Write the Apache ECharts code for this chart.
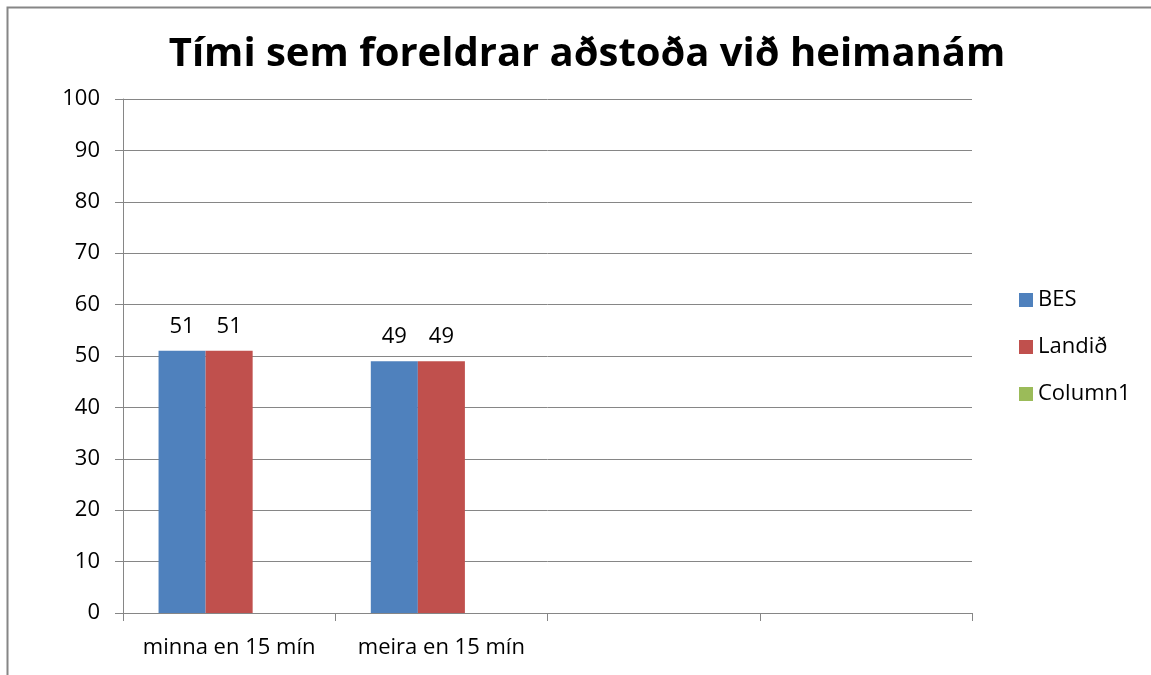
<!DOCTYPE html>
<html>
<head>
<meta charset="utf-8">
<script src="https://cdn.jsdelivr.net/npm/echarts@6/dist/echarts.min.js"></script>
<style>
  html, body { margin: 0; padding: 0; background: #fff; }
  #main { width: 1151px; height: 675px; }
</style>
</head>
<body>
<div id="main"></div>
<script>
const categories = ['minna en 15 mín', 'meira en 15 mín', '', ''];
const besValues = [51, 49, null, null];
const landidValues = [51, 49, null, null];
const column1Values = [null, null, null, null];

const myChart = echarts.init(document.getElementById('main'));
const font = 'Open Sans, Liberation Sans, sans-serif';
const labelStyle = {
    show: true,
    position: 'top',
    distance: 13,
    color: '#000',
    fontSize: 22,
    fontFamily: font
};
const option = {
    backgroundColor: '#fff',
    animation: false,
    title: {
        text: 'Tími sem foreldrar aðstoða við heimanám',
        left: 582,
        textAlign: 'center',
        top: 30,
        textStyle: { fontSize: 40, fontWeight: 'bold', color: '#000', fontFamily: font }
    },
    graphic: [
        {
            type: 'rect',
            shape: { x: 7.5, y: 7.5, width: 1160, height: 680 },
            style: { fill: 'none', stroke: '#868686', lineWidth: 2 }
        }
    ],
    legend: {
        orient: 'vertical',
        left: 1014,
        top: 284,
        itemWidth: 14,
        itemHeight: 14,
        itemGap: 25,
        icon: 'rect',
        textStyle: { fontSize: 22, color: '#000', fontFamily: font },
        data: ['BES', 'Landið', 'Column1']
    },
    grid: { left: 123, right: 179, top: 99, bottom: 62 },
    xAxis: {
        type: 'category',
        data: categories,
        axisLine: { lineStyle: { color: '#868686', width: 1 } },
        axisTick: { show: true, interval: 0, alignWithLabel: false, length: 8, lineStyle: { color: '#868686' } },
        axisLabel: { interval: 0, color: '#000', fontSize: 22, fontFamily: font, margin: 24 }
    },
    yAxis: {
        type: 'value',
        min: 0,
        max: 100,
        interval: 10,
        axisLine: { show: true, lineStyle: { color: '#868686' } },
        axisTick: { show: true, length: 8, lineStyle: { color: '#868686' } },
        axisLabel: { color: '#000', fontSize: 22, fontFamily: font, margin: 23 },
        splitLine: { lineStyle: { color: '#868686' } }
    },
    series: [
        {
            name: 'BES', type: 'bar', data: besValues,
            barGap: '0%', barCategoryGap: '33.5%',
            itemStyle: { color: '#4F81BD' }, label: labelStyle
        },
        {
            name: 'Landið', type: 'bar', data: landidValues,
            itemStyle: { color: '#C0504D' }, label: labelStyle
        },
        {
            name: 'Column1', type: 'bar', data: column1Values,
            itemStyle: { color: '#9BBB59' }, label: labelStyle
        }
    ]
};
myChart.setOption(option);
</script>
</body>
</html>
